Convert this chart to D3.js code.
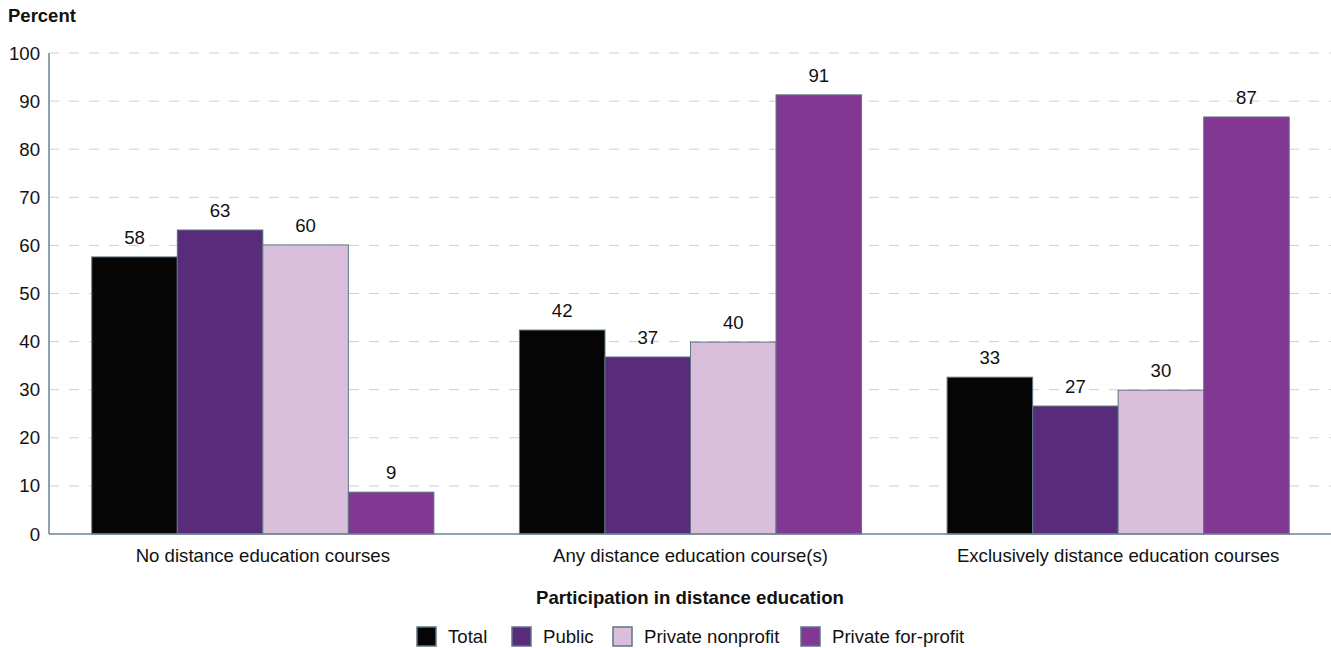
<!DOCTYPE html>
<html><head><meta charset="utf-8">
<script src="https://cdn.jsdelivr.net/npm/d3@7"></script>
<style>body{margin:0;background:#fff;font-family:"Liberation Sans",Arial,sans-serif}</style>
</head><body><svg id="c" width="1331" height="648"></svg>
<script>
const categories = ["No distance education courses","Any distance education course(s)","Exclusively distance education courses"];
const seriesNames = ["Total","Public","Private nonprofit","Private for-profit"];
const total = [57.6, 42.4, 32.6];
const publicV = [63.2, 36.8, 26.6];
const nonprofit = [60.1, 39.9, 29.9];
const forprofit = [8.7, 91.3, 86.7];
const yTicks = [0,10,20,30,40,50,60,70,80,90,100];
const colors = ["#050505","#582c7b","#d9bfdc","#823893"];
const series = [total, publicV, nonprofit, forprofit];
const FS = 18.6;

const svg = d3.select("#c");
const m = {l:49, r:1332, t:53, b:534};
const x0 = d3.scaleBand().domain(categories).range([m.l, m.r]).paddingInner(0.2).paddingOuter(0.1);
const x1 = d3.scaleBand().domain(seriesNames).range([0, x0.bandwidth()]);
const y = d3.scaleLinear().domain([0,100]).range([m.b, m.t]);

// grid
svg.append("g").selectAll("line").data(yTicks.filter(d=>d>0)).join("line")
  .attr("x1", m.l).attr("x2", 1331).attr("y1", d=>y(d)).attr("y2", d=>y(d))
  .attr("stroke","#cfcfcf").attr("stroke-dasharray","10,10").attr("stroke-width",1);

// y tick labels
svg.append("g").selectAll("text").data(yTicks).join("text")
  .attr("x", 40).attr("y", d=>y(d)+6.5).attr("text-anchor","end")
  .attr("font-size",FS).attr("fill","#111").text(d=>d);

// bars
const g = svg.append("g");
categories.forEach((c,i)=>{
  seriesNames.forEach((s,j)=>{
    const v = series[j][i];
    g.append("rect").attr("x", x0(c)+x1(s)).attr("y", y(v))
      .attr("width", x1.bandwidth()).attr("height", y(0)-y(v))
      .attr("fill", colors[j]).attr("stroke","#5e7584").attr("stroke-width",1);
    g.append("text").attr("x", x0(c)+x1(s)+x1.bandwidth()/2).attr("y", y(v)-13)
      .attr("text-anchor","middle").attr("font-size",FS).attr("fill","#111").text(Math.round(v));
  });
});

// axes lines
svg.append("line").attr("x1",m.l).attr("x2",m.l).attr("y1",m.t).attr("y2",m.b).attr("stroke","#6a8494").attr("stroke-width",1.5);
svg.append("line").attr("x1",m.l).attr("x2",1331).attr("y1",m.b).attr("y2",m.b).attr("stroke","#6a8494").attr("stroke-width",1.5);

// x labels
svg.append("g").selectAll("text").data(categories).join("text")
  .attr("x", d=>x0(d)+x0.bandwidth()/2).attr("y", 562).attr("text-anchor","middle")
  .attr("font-size",FS).attr("fill","#111").text(d=>d);

svg.append("text").attr("x",8).attr("y",22).attr("font-size",18.5).attr("font-weight","bold").attr("fill","#111").text("Percent");
svg.append("text").attr("x",690).attr("y",604).attr("text-anchor","middle").attr("font-size",FS).attr("font-weight","bold").attr("fill","#111").text("Participation in distance education");

// legend
const legX = [417, 512, 613, 801];
seriesNames.forEach((s,j)=>{
  svg.append("rect").attr("x",legX[j]).attr("y",627).attr("width",19).attr("height",19)
    .attr("fill",colors[j]).attr("stroke","#5e7584").attr("stroke-width",1.5);
  svg.append("text").attr("x",legX[j]+31).attr("y",643).attr("font-size",FS).attr("fill","#111").text(s);
});
</script></body></html>
